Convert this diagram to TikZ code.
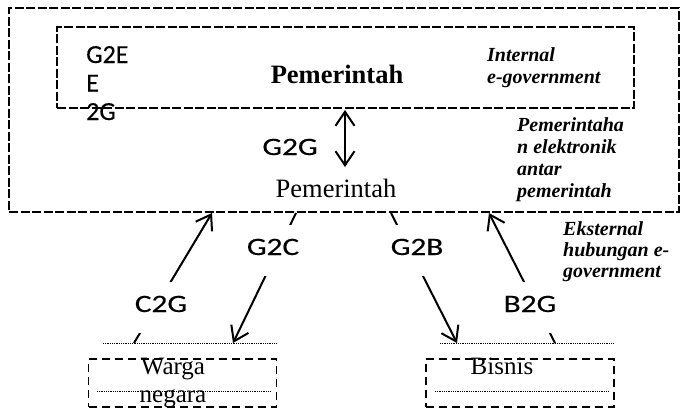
\documentclass[tikz,border=0pt]{standalone}
\usepackage{fontspec}
\setmainfont{Liberation Serif}
\newfontfamily\lblfont[FakeBold=0.3]{Carlito}
\newfontfamily\arrfont[FakeStretch=1.25,FakeBold=0.3]{Carlito}
\usetikzlibrary{arrows.meta}

\begin{document}
\begin{tikzpicture}[x=1pt,y=-1pt,
  bigbox/.style={draw, line width=1.1pt, dash pattern=on 9pt off 2.5pt, inner sep=0pt},
  partybox/.style={draw, line width=1.3pt, dash pattern=on 8pt off 5pt, inner sep=0pt,
    minimum width=188pt, minimum height=48pt},
  dotline/.style={line width=1pt, dash pattern=on 1pt off 0.8pt},
  barb/.tip={Straight Barb[length=14pt,width=19pt,line width=2pt]},
  conn/.style={line width=2pt, -barb},
  dconn/.style={line width=2pt, barb-barb},
  flowlbl/.style={font=\arrfont\fontsize{25}{28}\selectfont, anchor=base, fill=white,
    inner xsep=1pt, inner ysep=0pt, text height=30pt, text depth=21pt},
  sidenote/.style={font=\bfseries\itshape\fontsize{20}{21.7}\selectfont, align=left,
    anchor=base west, inner sep=0pt},
  govtext/.style={font=\fontsize{26.5}{28}\selectfont, anchor=base, inner sep=0pt},
  partytext/.style={font=\fontsize{25}{28}\selectfont, anchor=base, inner sep=0pt, align=center}
]
\useasboundingbox (0,0) rectangle (681,410);

% government boxes
\node[bigbox, minimum width=670pt, minimum height=204pt] (outer) at (344,110) {};
\node[bigbox, minimum width=577pt, minimum height=81pt] (inner) at (345.5,67.5) {};

\node[govtext, font=\bfseries\fontsize{26.5}{28}\selectfont] (pemA) at (337,83) {Pemerintah};
\node[govtext] (pemB) at (336,197) {Pemerintah};

% multi-line texts are placed by the baseline of their last line
\node[font=\lblfont\fontsize{26}{28.5}\selectfont, align=left, anchor=base west, inner sep=0pt]
  (g2ee) at (86,120) {G2E\\E\\2G};

\node[sidenote] (internal) at (487,83) {Internal\\e-government};
\node[sidenote] (antar) at (517,197) {Pemerintaha\\n elektronik\\antar\\pemerintah};
\node[sidenote, font=\bfseries\itshape\fontsize{20}{21}\selectfont] (eksternal) at (563,277) {Eksternal\\hubungan e-\\government};

% G2G link between the two government levels
\coordinate (g2gTop) at (345,110);
\coordinate (g2gBot) at (345,167);
\draw[dconn] (g2gTop) -- (g2gBot);
\node[font=\arrfont\fontsize{25}{28}\selectfont, anchor=base, inner sep=0pt] (g2g) at (290,155) {G2G};

% citizen and business boxes
\node[partybox] (warga) at (182.5,383) {};
\node[partybox] (bisnis) at (520,383) {};
\draw[dotline] (103,343) -- (276,343);
\draw[dotline] (440,343) -- (613,343);
\draw[dotline] (97,391) -- (270,391);
\draw[dotline] (435,391) -- (609,391);
\node[partytext] (wargaT) at (173,402) {Warga\\negara};
\node[partytext] (bisnisT) at (502,374) {Bisnis};

% external flows
\coordinate (c2gBot) at (134,343);
\coordinate (c2gTop) at (212,213);
\coordinate (g2cTop) at (296,213);
\coordinate (g2cBot) at (233,343);
\coordinate (g2bTop) at (391,213);
\coordinate (g2bBot) at (457,343);
\coordinate (b2gBot) at (555,343);
\coordinate (b2gTop) at (489,213);
\draw[conn] (c2gBot) -- (c2gTop);
\draw[conn] (g2cTop) -- (g2cBot);
\draw[conn] (g2bTop) -- (g2bBot);
\draw[conn] (b2gBot) -- (b2gTop);

\node[flowlbl] (c2g) at (161,312) {C2G};
\node[flowlbl] (g2c) at (273,255) {G2C};
\node[flowlbl] (g2b) at (417,255) {G2B};
\node[flowlbl] (b2g) at (530,312) {B2G};
\end{tikzpicture}
\end{document}
